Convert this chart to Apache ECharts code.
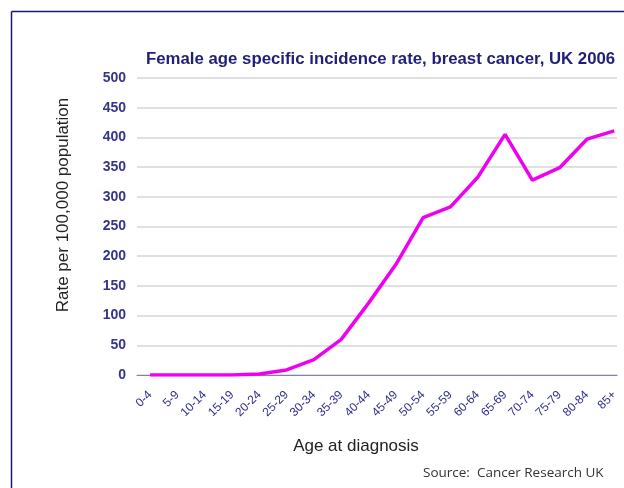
<!DOCTYPE html>
<html><head><meta charset="utf-8">
<script src="https://cdn.jsdelivr.net/npm/echarts@6/dist/echarts.min.js"></script>
<style>html,body{margin:0;padding:0;background:#fff}#c{width:624px;height:488px}</style>
</head><body><div id="c"></div>
<script>
const categories = ['0-4','5-9','10-14','15-19','20-24','25-29','30-34','35-39','40-44','45-49','50-54','55-59','60-64','65-69','70-74','75-79','80-84','85+'];
const rates = [0, 0, 0, 0.2, 1.6, 8.5, 26, 60, 121, 186, 265, 283, 333, 405, 328, 349, 397, 411];
const yTicks = [0, 50, 100, 150, 200, 250, 300, 350, 400, 450, 500];

const chart = echarts.init(document.getElementById('c'), null, {renderer: 'canvas'});
const navy = '#2d2d8c';
chart.setOption({
  animation: false,
  title: {
    text: 'Female age specific incidence rate, breast cancer, UK 2006',
    left: 141, top: 46,
    textStyle: {color: '#1f1f78', fontFamily: 'Arial, Liberation Sans', fontSize: 16.8, fontWeight: 'bold'}
  },
  graphic: [
    {type: 'line', shape: {x1: 11.5, y1: 11.5, x2: 624, y2: 11.5}, style: {stroke: '#1a1a6a', lineWidth: 1.5}},
    {type: 'line', shape: {x1: 11.5, y1: 11.5, x2: 11.5, y2: 488}, style: {stroke: '#1a1a6a', lineWidth: 1.5}},
    {type: 'text', x: 423, y: 473, style: {text: 'Source:  Cancer Research UK', fill: '#333', font: '13.5px "Open Sans", Arial', textVerticalAlign: 'middle'}},
    {type: 'text', x: 356, y: 446, style: {text: 'Age at diagnosis', fill: '#222', font: '17px Arial, "Liberation Sans"', textAlign: 'center', textVerticalAlign: 'middle'}},
    {type: 'text', x: 63, y: 205, rotation: Math.PI / 2, style: {text: 'Rate per 100,000 population', fill: '#222', font: '17px Arial, "Liberation Sans"', textAlign: 'center', textVerticalAlign: 'middle'}}
  ],
  grid: {left: 137, right: 7, top: 78, bottom: 113},
  xAxis: {
    type: 'value', min: -0.48, max: 17.1,
    axisLine: {show: true, lineStyle: {color: '#8080b0', width: 1}},
    axisTick: {show: false},
    splitLine: {show: false},
    axisLabel: {
      customValues: categories.map((c, i) => i),
      formatter: v => categories[Math.round(v)],
      rotate: 45, color: navy, fontFamily: 'Arial, Liberation Sans', fontSize: 12, margin: 18
    }
  },
  yAxis: {
    type: 'value', min: 0, max: 500, interval: 50,
    axisLine: {show: false}, axisTick: {show: false},
    splitLine: {lineStyle: {color: '#d6d6d6', width: 1.5}},
    axisLabel: {color: '#34348e', fontFamily: 'Arial, Liberation Sans', fontSize: 14, fontWeight: 'bold', margin: 11,
      formatter: v => yTicks.includes(v) ? String(v) : ''}
  },
  series: [{
    type: 'line',
    data: rates.map((v, i) => [i, v]),
    showSymbol: false,
    lineStyle: {color: '#f000f0', width: 3.5},
    itemStyle: {color: '#f000f0'}
  }]
});
</script></body></html>
